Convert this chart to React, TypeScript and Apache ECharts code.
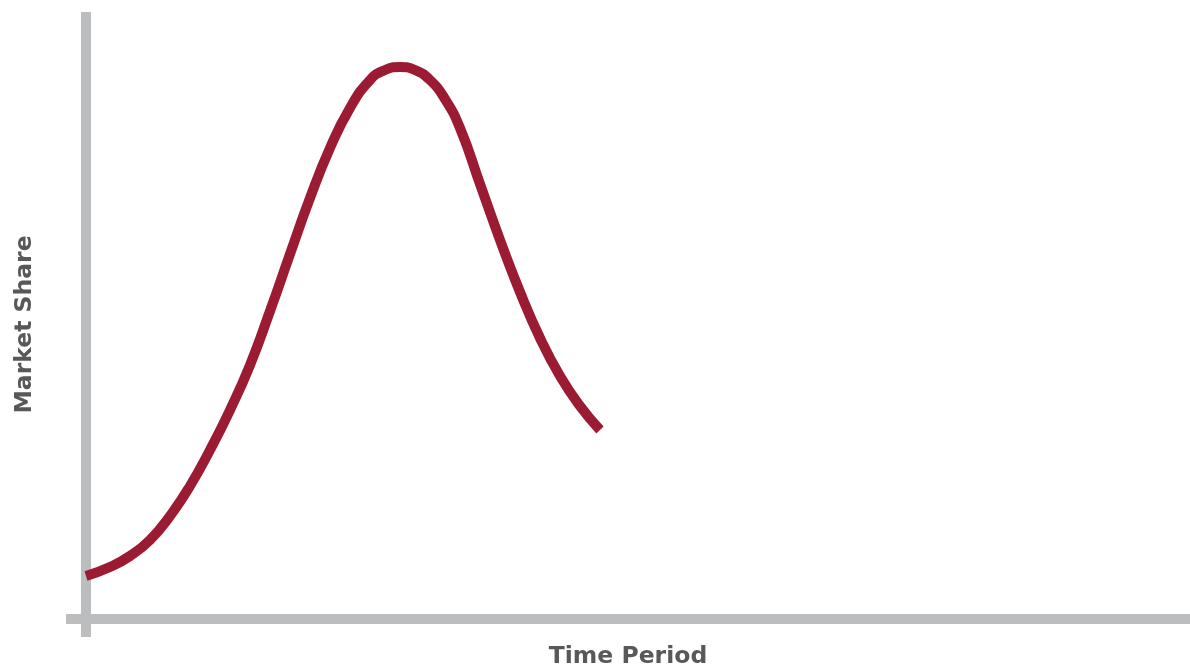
import React, { useEffect, useRef } from "react";
import * as echarts from "echarts";

// Time (arbitrary units) and market share (arbitrary units)
const timeValues = [0, 2.4, 4.4, 6.4, 8.4, 10.4, 12.4, 14.4, 16.4, 18.4, 20.4, 22.4, 24.4, 26.4, 28.4, 29.9, 31.4, 32.9, 34.4, 35.9, 37.4, 39.4, 41.4, 43.4, 45.4, 47.4, 49.4, 51.4];
const shareValues = [7.17, 8.67, 10.5, 13.17, 17.17, 22.17, 28.17, 34.83, 42.33, 51.33, 60.83, 70.17, 78.5, 85.17, 89.83, 91.5, 92.0, 91.5, 89.83, 86.67, 81.83, 72.5, 63.17, 54.5, 46.83, 40.5, 35.5, 31.5];

const xAxisTitle = "Time Period";
const yAxisTitle = "Market Share";

export default function App() {
  const ref = useRef<HTMLDivElement>(null);
  useEffect(() => {
    if (!ref.current) return;
    const chart = echarts.init(ref.current, null, { renderer: "svg" });
    const axisColor = "#bcbdbf";
    const textColor = "#58585a";
    const nameStyle = { fontFamily: "DejaVu Sans", fontWeight: "bold", fontSize: 23.5, lineHeight: 22, color: textColor };
    chart.setOption({
      animation: false,
      grid: { left: 66, right: 0, top: 12, bottom: 31, containLabel: false, outerBoundsMode: "none" },
      xAxis: {
        type: "value",
        min: -2,
        max: 110.4,
        name: xAxisTitle,
        nameLocation: "middle",
        nameGap: 7,
        nameTextStyle: nameStyle,
        axisLine: { show: true, onZero: true, lineStyle: { color: axisColor, width: 10, cap: "butt" } },
        axisTick: { show: false },
        axisLabel: { show: false },
        splitLine: { show: false },
      },
      yAxis: {
        type: "value",
        min: -3,
        max: 101.1667,
        name: yAxisTitle,
        nameLocation: "middle",
        nameRotate: 90,
        nameGap: 32,
        nameTextStyle: nameStyle,
        axisLine: { show: true, onZero: true, lineStyle: { color: axisColor, width: 10, cap: "butt" } },
        axisTick: { show: false },
        axisLabel: { show: false },
        splitLine: { show: false },
      },
      series: [
        {
          type: "line",
          data: timeValues.map((t, i) => [t, shareValues[i]]),
          smooth: 0.5,
          showSymbol: false,
          symbol: "none",
          lineStyle: { color: "#9b1b32", width: 10, cap: "butt" },
          z: 3,
        },
      ],
    });
    return () => chart.dispose();
  }, []);
  return <div ref={ref} style={{ position: "fixed", left: 0, top: 0, width: 1190, height: 668 }} />;
}
